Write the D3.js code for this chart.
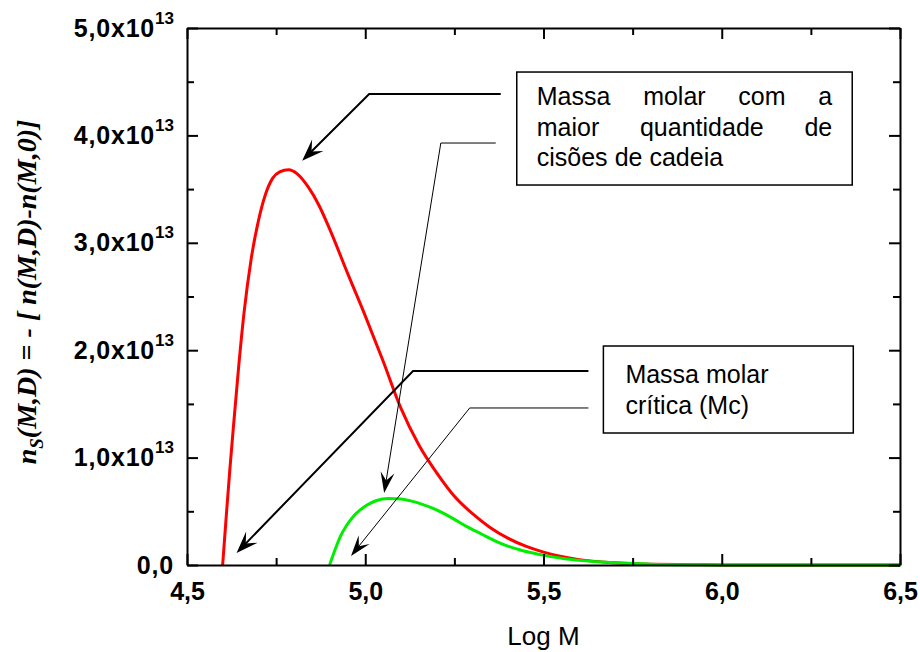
<!DOCTYPE html>
<html><head><meta charset="utf-8">
<script src="https://cdn.jsdelivr.net/npm/d3@7"></script>
<style>body{margin:0;background:#fff}</style>
</head><body>
<svg id="c" width="920" height="652" xmlns="http://www.w3.org/2000/svg"></svg>
<script>
// ---- data ----
const logM_red = [4.600,4.610,4.620,4.630,4.645,4.660,4.680,4.700,4.720,4.740,4.760,4.785,4.810,4.840,4.870,4.900,4.950,5.000,5.050,5.100,5.150,5.200,5.250,5.300,5.350,5.400,5.450,5.500,5.600,5.700,5.800,6.000,6.500];
const ns_red   = [0,0.45e13,0.88e13,1.28e13,1.85e13,2.35e13,2.85e13,3.20e13,3.45e13,3.60e13,3.66e13,3.68e13,3.64e13,3.52e13,3.35e13,3.13e13,2.72e13,2.32e13,1.90e13,1.46e13,1.12e13,0.86e13,0.64e13,0.48e13,0.35e13,0.25e13,0.175e13,0.12e13,0.05e13,0.02e13,0.007e13,0.001e13,0];
const logM_green = [4.900,4.915,4.930,4.948,4.966,4.985,5.004,5.030,5.065,5.100,5.130,5.160,5.190,5.220,5.250,5.285,5.310,5.340,5.370,5.400,5.430,5.460,5.490,5.520,5.560,5.600,5.650,5.700,5.750,5.800,5.900,6.000,6.500];
const ns_green   = [0,0.14e13,0.265e13,0.37e13,0.45e13,0.51e13,0.556e13,0.598e13,0.62e13,0.615e13,0.595e13,0.565e13,0.528e13,0.48e13,0.425e13,0.357e13,0.315e13,0.265e13,0.215e13,0.175e13,0.145e13,0.118e13,0.097e13,0.078e13,0.058e13,0.043e13,0.030e13,0.020e13,0.013e13,0.008e13,0.003e13,0.001e13,0];

const xMajor = [4.5,5.0,5.5,6.0,6.5];
const xMajorLabels = ["4,5","5,0","5,5","6,0","6,5"];
const xMinor = [4.75,5.25,5.75,6.25];
const yMajor = [0,1e13,2e13,3e13,4e13,5e13];
const yMajorLabels = ["0,0","1,0x10","2,0x10","3,0x10","4,0x10","5,0x10"];
const yMajorExp = ["","13","13","13","13","13"];
const yMinor = [0.5e13,1.5e13,2.5e13,3.5e13,4.5e13];

const xTitle = "Log M";
const box1Lines = [["Massa","molar","com","a"],["maior","quantidade","de"],["cisões","de","cadeia"]];
const box2Lines = ["Massa molar","crítica (Mc)"];

// annotation geometry in data units [logM, ns]
const arrowThick1 = [[5.380,4.385e13],[5.011,4.385e13],[4.823,3.764e13]];
const arrowThin1  = [[5.366,3.929e13],[5.212,3.929e13],[5.053,0.670e13]];
const arrowThick2 = [[5.626,1.806e13],[5.134,1.806e13],[4.639,0.112e13]];
const arrowThin2  = [[5.626,1.462e13],[5.293,1.462e13],[4.960,0.084e13]];
const box1 = [[5.425,4.590e13],[6.366,3.538e13]];
const box2 = [[5.668,2.039e13],[6.369,1.229e13]];

// ---- layout ----
const L = 187, R = 900, T = 28, B = 565;
const svg = d3.select("#c");
const x = d3.scaleLinear().domain([4.5,6.5]).range([L,R]);
const y = d3.scaleLinear().domain([0,5e13]).range([B,T]);

const line = d3.line().x(d=>x(d[0])).y(d=>y(d[1])).curve(d3.curveMonotoneX);
svg.append("path").datum(logM_red.map((v,i)=>[v,ns_red[i]]))
  .attr("d",line).attr("fill","none").attr("stroke","#ff0000").attr("stroke-width",3);
svg.append("path").datum(logM_green.map((v,i)=>[v,ns_green[i]]))
  .attr("d",line).attr("fill","none").attr("stroke","#00ee00").attr("stroke-width",3);

const axFont = "Arial, 'Liberation Sans', sans-serif";
function styleAxis(g){
  g.selectAll("path.domain").attr("stroke","#000").attr("stroke-width",2);
  g.selectAll(".tick line").attr("stroke","#000").attr("stroke-width",2);
}
// bottom
const gb = svg.append("g").attr("transform",`translate(0,${B})`)
  .call(d3.axisBottom(x).tickValues(xMajor).tickSize(-11).tickSizeOuter(0).tickPadding(17)
    .tickFormat((d,i)=>xMajorLabels[i]));
styleAxis(gb);
gb.selectAll("text").attr("font-family",axFont).attr("font-weight","bold").attr("font-size",25).attr("fill","#000");
const gbm = svg.append("g").attr("transform",`translate(0,${B})`)
  .call(d3.axisBottom(x).tickValues(xMinor).tickSize(-7).tickSizeOuter(0).tickFormat(""));
styleAxis(gbm); gbm.select("path.domain").remove();
// top
const gt = svg.append("g").attr("transform",`translate(0,${T})`)
  .call(d3.axisTop(x).tickValues(xMajor).tickSize(-11).tickSizeOuter(0).tickFormat(""));
styleAxis(gt);
const gtm = svg.append("g").attr("transform",`translate(0,${T})`)
  .call(d3.axisTop(x).tickValues(xMinor).tickSize(-7).tickSizeOuter(0).tickFormat(""));
styleAxis(gtm); gtm.select("path.domain").remove();
// left
const gl = svg.append("g").attr("transform",`translate(${L},0)`)
  .call(d3.axisLeft(y).tickValues(yMajor).tickSize(-11).tickSizeOuter(0).tickPadding(13).tickFormat(""));
styleAxis(gl);
gl.selectAll(".tick text").each(function(d,i){
  const t = d3.select(this).attr("font-family",axFont).attr("font-weight","bold")
    .attr("font-size",25).attr("fill","#000").attr("letter-spacing",0.8);
  t.append("tspan").text(yMajorLabels[i]);
  if (yMajorExp[i]) t.append("tspan").attr("dy",-13).attr("font-size",17).attr("letter-spacing",0).text(yMajorExp[i]);
});
const glm = svg.append("g").attr("transform",`translate(${L},0)`)
  .call(d3.axisLeft(y).tickValues(yMinor).tickSize(-7).tickSizeOuter(0).tickFormat(""));
styleAxis(glm); glm.select("path.domain").remove();
// right
const gr = svg.append("g").attr("transform",`translate(${R},0)`)
  .call(d3.axisRight(y).tickValues(yMajor).tickSize(-11).tickSizeOuter(0).tickFormat(""));
styleAxis(gr);
const grm = svg.append("g").attr("transform",`translate(${R},0)`)
  .call(d3.axisRight(y).tickValues(yMinor).tickSize(-7).tickSizeOuter(0).tickFormat(""));
styleAxis(grm); grm.select("path.domain").remove();

// axis titles
svg.append("text").attr("x",(L+R)/2).attr("y",645).attr("text-anchor","middle")
  .attr("font-family",axFont).attr("font-size",26).attr("fill","#000").text(xTitle);
const yt = svg.append("text").attr("transform",`translate(36,292) rotate(-90)`)
  .attr("text-anchor","middle").attr("font-family","'Liberation Serif','Times New Roman',serif")
  .attr("font-weight","bold").attr("font-style","italic").attr("font-size",28).attr("fill","#000");
yt.append("tspan").text("n");
yt.append("tspan").attr("dy",7).attr("font-size",19).text("S");
yt.append("tspan").attr("dy",-7).text("(M,D) = - [ n(M,D)-n(M,0)]");

// annotations
function arrow(pts, w, hl, hw){
  const p = pts.map(d=>[x(d[0]),y(d[1])]);
  const tip = p[p.length-1], prev = p[p.length-2];
  const dx = tip[0]-prev[0], dy = tip[1]-prev[1], len = Math.hypot(dx,dy);
  const ux = dx/len, uy = dy/len, nx = -uy, ny = ux;
  const shaft = p.slice(0,-1).concat([[tip[0]-ux*hl*0.5, tip[1]-uy*hl*0.5]]);
  svg.append("path").attr("d",d3.line()(shaft)).attr("fill","none").attr("stroke","#000").attr("stroke-width",w);
  const head = [tip,
    [tip[0]-ux*hl+nx*hw, tip[1]-uy*hl+ny*hw],
    [tip[0]-ux*hl*0.6, tip[1]-uy*hl*0.6],
    [tip[0]-ux*hl-nx*hw, tip[1]-uy*hl-ny*hw]];
  svg.append("path").attr("d",d3.line()(head)+"Z").attr("fill","#000");
}
arrow(arrowThick1,2,22,8);
arrow(arrowThin1,1,21,7);
arrow(arrowThick2,2,22,8);
arrow(arrowThin2,1,21,7);

function box(b){
  svg.append("rect").attr("x",x(b[0][0])).attr("y",y(b[0][1]))
    .attr("width",x(b[1][0])-x(b[0][0])).attr("height",y(b[1][1])-y(b[0][1]))
    .attr("fill","#fff").attr("stroke","#000").attr("stroke-width",1.5);
}
box(box1); box(box2);

const boxFont = "Arial, 'Liberation Sans', sans-serif";
// box 1 justified text
const b1x0 = x(box1[0][0])+20, b1x1 = x(box1[1][0])-20;
const b1y0 = y(box1[0][1])+33;
box1Lines.forEach((words,li)=>{
  const yy = b1y0 + li*30.5;
  const nodes = words.map(w=>svg.append("text").attr("font-family",boxFont).attr("font-size",25)
    .attr("fill","#000").attr("y",yy).text(w));
  const widths = nodes.map(n=>n.node().getComputedTextLength());
  const last = li===box1Lines.length-1;
  const total = d3.sum(widths);
  const gap = last ? 7 : (b1x1-b1x0-total)/(words.length-1);
  let cx = b1x0;
  nodes.forEach((n,i)=>{ n.attr("x",cx); cx += widths[i]+gap; });
});
// box 2 text
box2Lines.forEach((t,i)=>{
  svg.append("text").attr("x",x(box2[0][0])+22).attr("y",y(box2[0][1])+37+i*31)
    .attr("font-family",boxFont).attr("font-size",25).attr("fill","#000").text(t);
});
</script>
</body></html>
